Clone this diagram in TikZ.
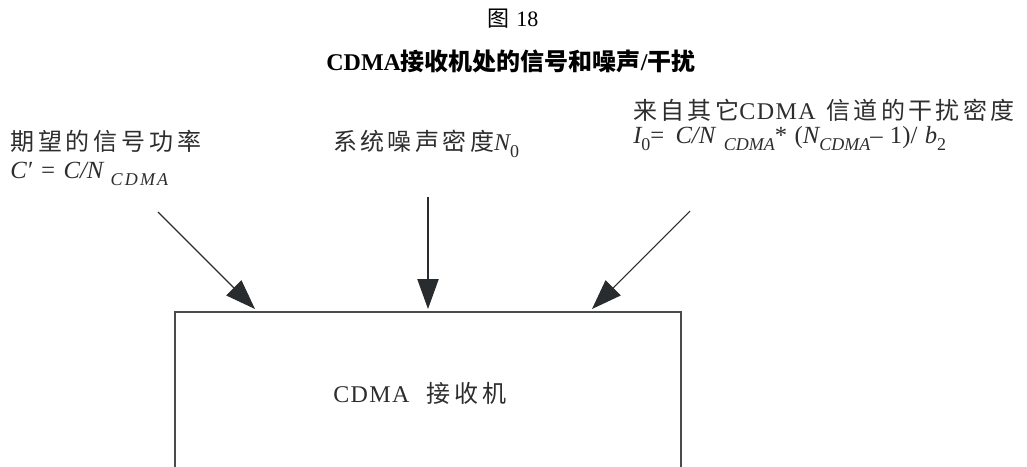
\documentclass[tikz,border=0pt]{standalone}
\usepackage{fontspec}
\setmainfont{Liberation Serif}
\newfontfamily\cjk{Noto Sans CJK SC}
\newfontfamily\cjksp[LetterSpace=14]{Noto Sans CJK SC}
\newfontfamily\cjkwide[LetterSpace=16]{Noto Sans CJK SC}
\newfontfamily\latsp[LetterSpace=6]{Liberation Serif}
\newfontfamily\subsp[LetterSpace=12]{Liberation Serif}
\usetikzlibrary{arrows.meta}
\definecolor{ink}{RGB}{40,44,46}
\definecolor{txt}{RGB}{45,45,45}
\newcommand\sbs[1]{\raisebox{-0.3em}{\fontsize{13.5pt}{14pt}\selectfont #1}}
\tikzset{
  lbl/.style={inner sep=0pt, anchor=base west, text=txt, font=\fontsize{18pt}{20pt}\selectfont},
  frm/.style={inner sep=0pt, anchor=base west, text=txt, font=\fontsize{18.5pt}{20pt}\selectfont},
  ttl/.style={inner sep=0pt, anchor=base, text=black},
  feed/.style={draw=ink, line width=0.8pt, -{Triangle[length=22.5pt,width=16pt]}},
  boxline/.style={draw=ink!85, line width=1.1pt},
}
\begin{document}
\begin{tikzpicture}[x=0.75pt,y=-0.75pt]
\useasboundingbox (0,0) rectangle (1027,467);
% titles
\node[ttl, font=\fontsize{16.5pt}{18pt}\selectfont] (t1) at (513,27) {{\cjk 图}\hspace{0.3em}18};
\node[ttl, font=\fontsize{18pt}{20pt}\selectfont\bfseries] (t2) at (511,70) {CDMA{\cjk\bfseries 接收机处的信号和噪声}/{\cjk\bfseries 干扰}};
% labels
\node[lbl] (l1) at (10,150) {{\cjkwide 期望的信号功率}};
\node[frm] (f1) at (10,178) {{\itshape C′\hspace{0.3em}=\hspace{0.3em}C/N}\hspace{0.3em}\sbs{\subsp\itshape CDMA}};
\node[lbl] (l2) at (333,150) {{\cjksp 系统噪声密度}{\itshape N}\sbs{0}};
\node[lbl] (l3) at (633,119) {{\cjksp 来自其它}{\latsp CDMA}\hspace{0.45em}{\cjksp 信道的干扰密度}};
\node[frm] (f3) at (633,143) {{\itshape I}\sbs{0}=\hspace{0.45em}{\itshape C/N}\hspace{0.35em}\sbs{\itshape CDMA}*\hspace{0.3em}({\itshape N}\sbs{\itshape CDMA}–\hspace{0.3em}1)/\hspace{0.3em}{\itshape b}\sbs{2}};
% receiver box (open at the bottom)
\coordinate (bl) at (175,470);
\coordinate (tl) at (175,312);
\coordinate (tr) at (681,312);
\coordinate (br) at (681,470);
\draw[boxline] (bl) -- (tl) -- (tr) -- (br);
\node[lbl] (rx) at (333,402) {{\latsp CDMA}\hspace{0.7em}{\cjkwide 接收机}};
% arrows
\coordinate (s1) at (158,212);
\coordinate (s2) at (428,197);
\coordinate (s3) at (690,211);
\coordinate (e1) at (255,309);
\coordinate (e2) at (428,309);
\coordinate (e3) at (592,309);
\draw[feed] (s1) -- (e1);
\draw[feed] (s2) -- (e2);
\draw[feed] (s3) -- (e3);
\end{tikzpicture}
\end{document}
